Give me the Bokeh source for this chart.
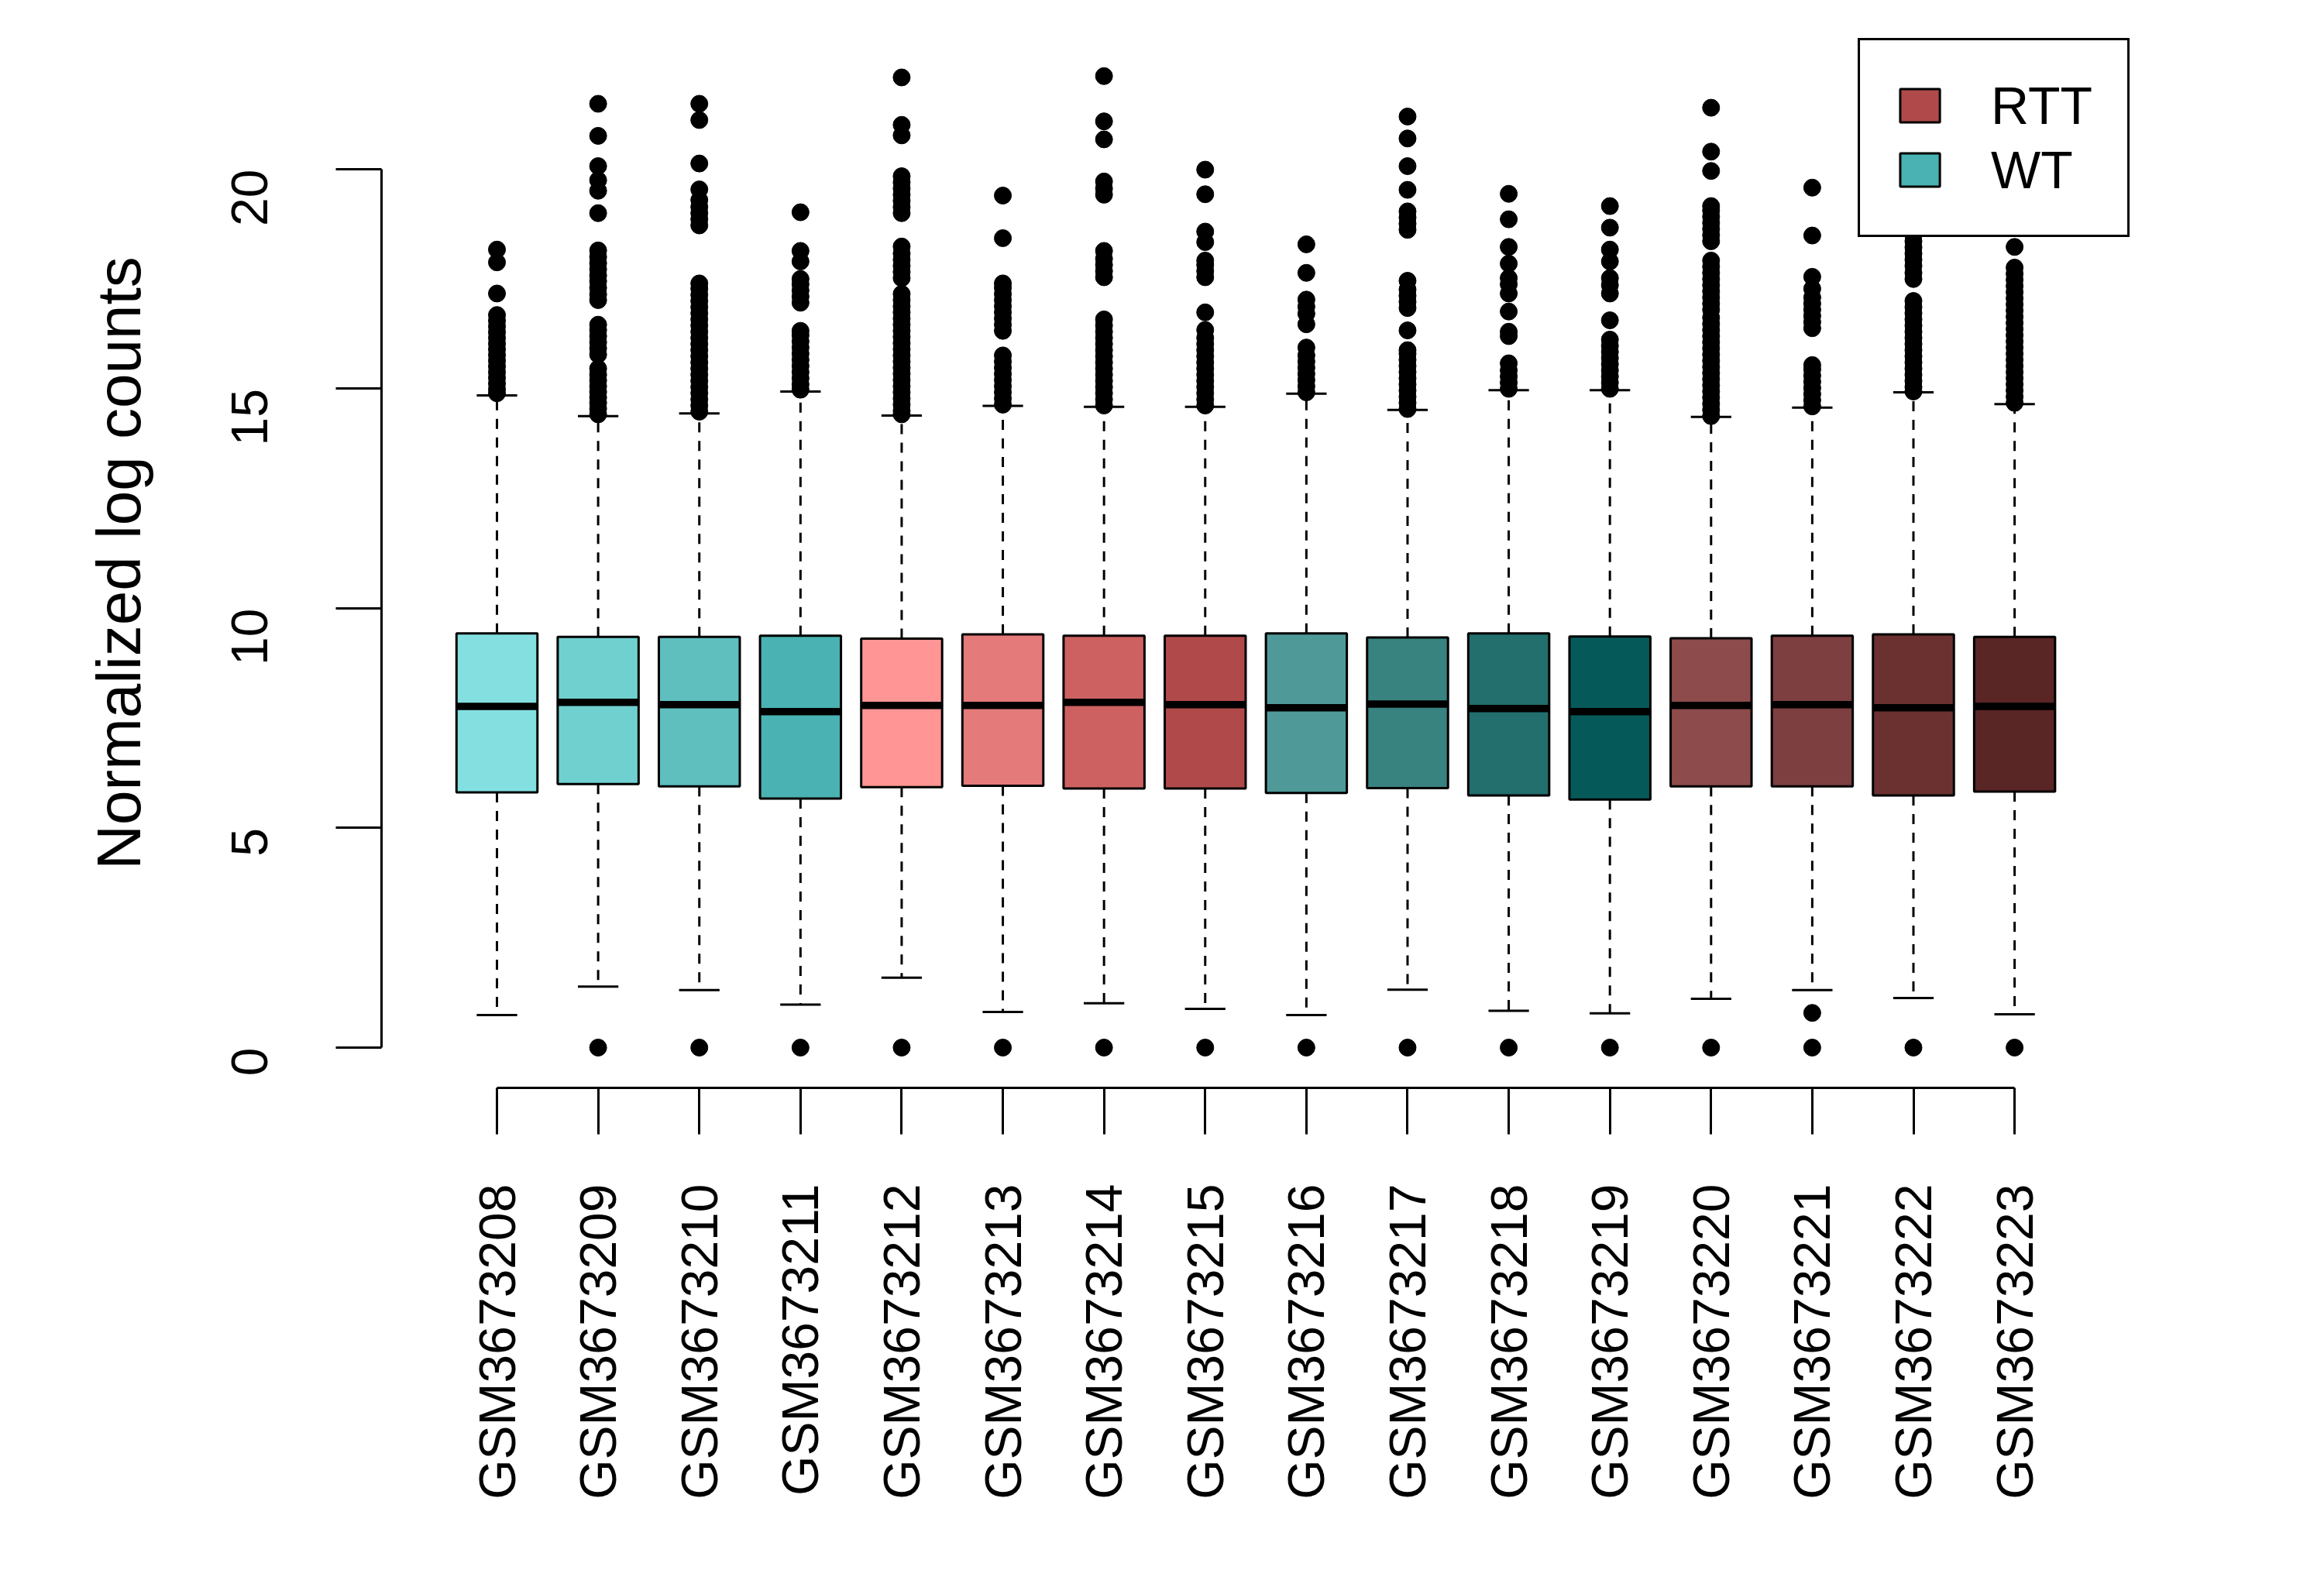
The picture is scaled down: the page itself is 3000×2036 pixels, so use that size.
import math
from bokeh.plotting import figure
from bokeh.models import Range1d, FixedTicker, Legend, LegendItem
from bokeh.embed import file_html
from bokeh.resources import INLINE

samples = ["GSM3673208", "GSM3673209", "GSM3673210", "GSM3673211",
           "GSM3673212", "GSM3673213", "GSM3673214", "GSM3673215",
           "GSM3673216", "GSM3673217", "GSM3673218", "GSM3673219",
           "GSM3673220", "GSM3673221", "GSM3673222", "GSM3673223"]

box_colors = ["#84E0E0", "#70D0CF", "#5FBFBF", "#4AB2B2",
              "#FF9595", "#E57A7A", "#CD6161", "#B04A4A",
              "#4F9A98", "#38827F", "#226F6D", "#055A59",
              "#8D4B4B", "#7D3F40", "#6B3131", "#5A2525"]

q1 = [5.81, 6.00, 5.95, 5.67, 5.93, 5.96, 5.90, 5.90,
      5.80, 5.91, 5.74, 5.65, 5.95, 5.95, 5.74, 5.83]
median = [7.77, 7.86, 7.81, 7.65, 7.79, 7.79, 7.86, 7.81,
          7.74, 7.82, 7.72, 7.65, 7.79, 7.81, 7.74, 7.77]
q3 = [9.43, 9.35, 9.35, 9.38, 9.31, 9.41, 9.38, 9.38,
      9.43, 9.34, 9.43, 9.36, 9.32, 9.38, 9.41, 9.35]
whisker_low = [0.74, 1.39, 1.31, 0.98, 1.59, 0.81, 1.01, 0.88,
               0.74, 1.32, 0.84, 0.78, 1.11, 1.31, 1.13, 0.76]
whisker_high = [14.85, 14.38, 14.44, 14.94, 14.39, 14.61, 14.59, 14.59,
                14.89, 14.52, 14.97, 14.97, 14.36, 14.57, 14.92, 14.65]

outliers = [
    [18.17, 17.88, 17.17, 16.68, 16.55, 16.42, 16.29, 16.16, 16.03, 15.90, 15.77,
     15.64, 15.51, 15.38, 15.25, 15.12, 14.99, 14.90],
    [0.0, 21.49, 20.76, 20.07, 19.75, 19.51, 19.00, 18.15, 18.00, 17.86, 17.72,
     17.58, 17.45, 17.30, 17.15, 17.02, 16.46, 16.34, 16.20, 16.06, 15.92, 15.78,
     15.46, 15.32, 15.19, 15.06, 14.93, 14.80, 14.68, 14.55, 14.42],
    [0.0, 21.49, 21.12, 20.13, 19.54, 19.30, 19.14, 19.00, 18.86, 18.72, 17.40,
     17.28, 17.14, 17.00, 16.86, 16.72, 16.58, 16.44, 16.30, 16.16, 16.02, 15.88,
     15.74, 15.60, 15.46, 15.32, 15.18, 15.04, 14.90, 14.76, 14.62, 14.48],
    [0.0, 19.02, 18.14, 17.90, 17.50, 17.38, 17.24, 17.10, 16.96, 16.32, 16.22,
     16.08, 15.94, 15.80, 15.66, 15.52, 15.38, 15.24, 15.10, 14.98],
    [0.0, 22.09, 21.01, 20.77, 19.84, 19.70, 19.56, 19.42, 19.28, 19.14, 19.00,
     18.24, 18.08, 17.94, 17.80, 17.66, 17.52, 17.16, 17.02, 16.88, 16.74, 16.60,
     16.46, 16.32, 16.18, 16.04, 15.90, 15.76, 15.62, 15.48, 15.34, 15.20, 15.06,
     14.92, 14.78, 14.64, 14.50, 14.42],
    [0.0, 19.40, 18.43, 17.40, 17.30, 17.16, 17.02, 16.88, 16.74, 16.60, 16.46,
     16.32, 15.76, 15.62, 15.48, 15.34, 15.20, 15.06, 14.92, 14.78, 14.64],
    [0.0, 22.12, 21.09, 20.68, 19.72, 19.56, 19.42, 18.14, 17.96, 17.82, 17.68,
     17.54, 16.58, 16.44, 16.30, 16.16, 16.02, 15.88, 15.74, 15.60, 15.46, 15.32,
     15.18, 15.04, 14.90, 14.76, 14.62],
    [0.0, 19.99, 19.43, 18.58, 18.34, 17.92, 17.82, 17.68, 17.54, 16.74, 16.34,
     16.16, 16.02, 15.88, 15.74, 15.60, 15.46, 15.32, 15.18, 15.04, 14.90, 14.76,
     14.62],
    [0.0, 18.29, 17.64, 17.03, 16.87, 16.71, 16.47, 15.94, 15.76, 15.62, 15.48,
     15.34, 15.20, 15.06, 14.92],
    [0.0, 21.20, 20.70, 20.07, 19.53, 19.04, 18.90, 18.76, 18.62, 17.46, 17.26,
     17.12, 16.98, 16.84, 16.33, 15.88, 15.80, 15.66, 15.52, 15.38, 15.24, 15.10,
     14.96, 14.82, 14.68, 14.54],
    [0.0, 19.44, 18.86, 18.23, 17.85, 17.52, 17.38, 17.17, 16.76, 16.30, 16.20,
     15.58, 15.42, 15.28, 15.14, 15.00],
    [0.0, 19.16, 18.67, 18.17, 17.90, 17.52, 17.36, 17.17, 16.56, 16.12, 15.98,
     15.84, 15.70, 15.56, 15.42, 15.28, 15.14, 15.00],
    [0.0, 21.40, 20.40, 19.96, 19.16, 19.06, 18.92, 18.78, 18.64, 18.50, 18.36,
     17.92, 17.78, 17.64, 17.50, 17.36, 17.22, 17.08, 16.94, 16.80, 16.62, 16.48,
     16.34, 16.20, 16.06, 15.92, 15.78, 15.64, 15.50, 15.36, 15.22, 15.08, 14.94,
     14.80, 14.66, 14.52, 14.38],
    [0.0, 0.79, 19.58, 18.49, 17.55, 17.28, 17.08, 16.94, 16.80, 16.66, 16.52,
     16.38, 15.54, 15.44, 15.30, 15.16, 15.02, 14.88, 14.74, 14.60],
    [0.0, 18.50, 18.36, 18.22, 18.08, 17.94, 17.80, 17.64, 17.50, 17.00, 16.86,
     16.72, 16.58, 16.44, 16.30, 16.16, 16.02, 15.88, 15.74, 15.60, 15.46, 15.32,
     15.18, 15.04, 14.94],
    [0.0, 18.23, 17.76, 17.62, 17.48, 17.34, 17.20, 17.06, 16.92, 16.78, 16.64,
     16.50, 16.36, 16.22, 16.08, 15.94, 15.80, 15.66, 15.52, 15.38, 15.24, 15.10,
     14.96, 14.82, 14.68],
]

y_ticks = [0, 5, 10, 15, 20]
legend_labels = ["RTT", "WT"]
legend_sample_index = [7, 3]   # boxes whose colours the legend shows

positions = list(range(1, len(samples) + 1))
BOX_W = 0.8
CAP_W = 0.4
FONT = "Liberation Sans"
LW = 3

p = figure(width=2984, height=2020, output_backend="svg", toolbar_location=None,
           x_range=Range1d(-0.141, 17.14), y_range=Range1d(-0.917, 22.98),
           min_border_left=492, min_border_right=235, min_border_top=49,
           min_border_bottom=616)
p.xgrid.visible = False
p.ygrid.visible = False
p.outline_line_color = None
p.background_fill_color = "white"

# whiskers
p.segment(x0=positions, y0=q3, x1=positions, y1=whisker_high,
          line_color="black", line_width=LW, line_dash="13 11")
p.segment(x0=positions, y0=q1, x1=positions, y1=whisker_low,
          line_color="black", line_width=LW, line_dash="13 11")
# staples
p.segment(x0=[x - CAP_W / 2 for x in positions], x1=[x + CAP_W / 2 for x in positions],
          y0=whisker_high, y1=whisker_high, line_color="black", line_width=LW)
p.segment(x0=[x - CAP_W / 2 for x in positions], x1=[x + CAP_W / 2 for x in positions],
          y0=whisker_low, y1=whisker_low, line_color="black", line_width=LW)
# boxes
boxes = p.vbar(x=positions, top=q3, bottom=q1, width=BOX_W, fill_color=box_colors,
               line_color="black", line_width=LW)
# medians
p.segment(x0=[x - BOX_W / 2 for x in positions], x1=[x + BOX_W / 2 for x in positions],
          y0=median, y1=median, line_color="black", line_width=9.5, line_cap="butt")
# outliers
ox, oy = [], []
for x, vals in zip(positions, outliers):
    ox.extend([x] * len(vals))
    oy.extend(vals)
p.scatter(ox, oy, size=22, marker="circle", fill_color="black", line_color="black",
          line_width=1)

# legend
items = [LegendItem(label=lab, renderers=[boxes], index=idx)
         for lab, idx in zip(legend_labels, legend_sample_index)]
legend = Legend(items=items, location="top_right", margin=0, padding=45, spacing=5,
                glyph_width=64, glyph_height=54, label_height=78, label_standoff=60,
                label_text_font=FONT, label_text_font_size="68px",
                label_text_color="black",
                border_line_color="black", border_line_width=3, border_line_alpha=1.0,
                background_fill_color="white", background_fill_alpha=1.0)
p.add_layout(legend)

# axes
for ax in (p.xaxis[0], p.yaxis[0]):
    ax.axis_line_width = LW
    ax.axis_line_color = "black"
    ax.major_tick_line_width = LW
    ax.major_tick_line_color = "black"
    ax.major_tick_in = 0
    ax.minor_tick_line_color = None
    ax.major_label_text_font = FONT
    ax.major_label_text_font_size = "66px"
    ax.major_label_text_color = "black"
    ax.major_label_orientation = math.pi / 2

yax = p.yaxis[0]
yax.ticker = FixedTicker(ticks=y_ticks)
yax.bounds = (min(y_ticks), max(y_ticks))
yax.major_tick_out = 59
yax.major_label_standoff = 111
yax.axis_label = "Normalized log counts"
yax.axis_label_text_font = FONT
yax.axis_label_text_font_size = "80px"
yax.axis_label_text_font_style = "normal"
yax.axis_label_text_color = "black"
yax.axis_label_standoff = 76

xax = p.xaxis[0]
xax.ticker = FixedTicker(ticks=positions)
xax.bounds = (positions[0], positions[-1])
xax.major_label_overrides = {x: s for x, s in zip(positions, samples)}
xax.major_tick_out = 60
xax.major_label_standoff = 64

open("out.html", "w").write(file_html(p, INLINE))
